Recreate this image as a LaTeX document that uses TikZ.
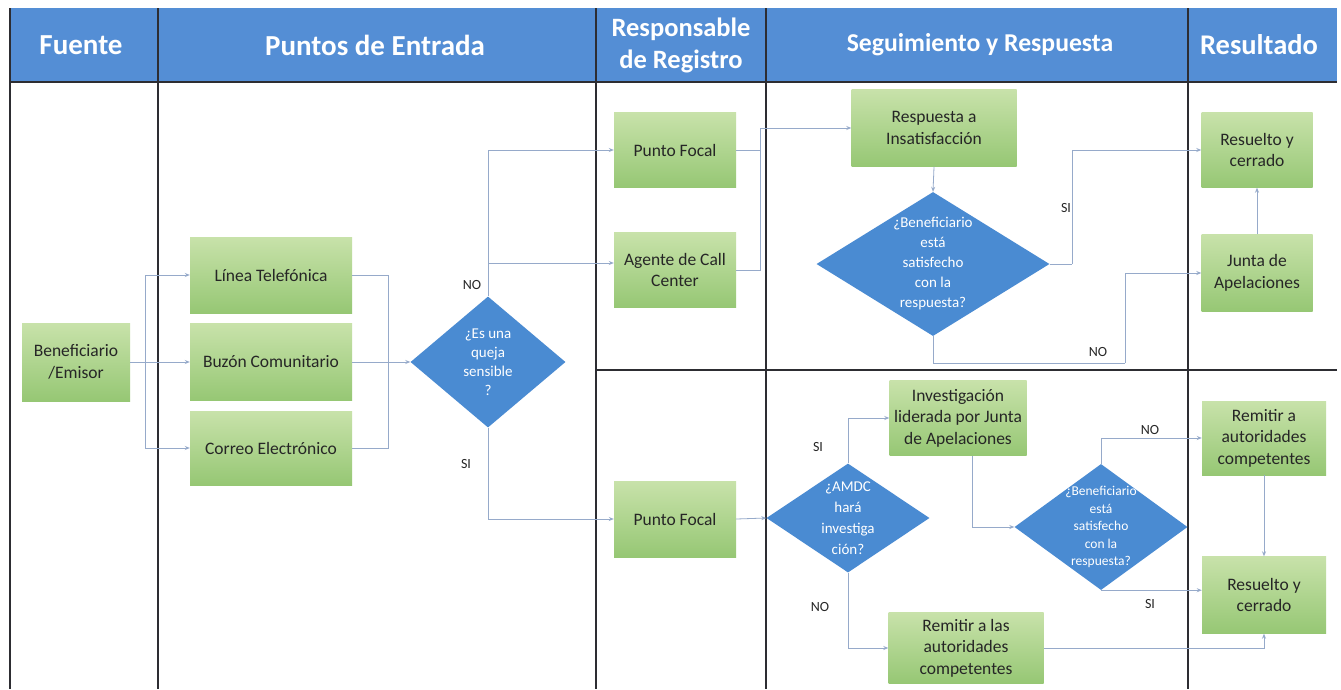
\documentclass[tikz,border=0pt]{standalone}
\usepackage{fontspec}
\setmainfont{Carlito}
\usetikzlibrary{shapes.geometric,arrows.meta}
\definecolor{hdr}{RGB}{84,142,213}
\definecolor{dia}{RGB}{74,139,210}
\definecolor{gtop}{RGB}{200,226,170}
\definecolor{gbot}{RGB}{150,199,116}
\definecolor{conn}{RGB}{150,170,202}
\definecolor{sepc}{RGB}{45,45,50}
\begin{document}
\begin{tikzpicture}[x=1pt,y=-1pt,
  gbox/.style={draw=none,top color=gtop,bottom color=gbot,align=center,inner sep=2pt,
    text=black!85,font=\fontsize{17.5}{21.5}\selectfont},
  dmd/.style={diamond,fill=dia,draw=none,inner sep=0pt},
  dtxt/.style={align=center,text=white,font=\fontsize{15}{19}\selectfont},
  hdrtxt/.style={align=center,text=white,font=\bfseries\fontsize{25}{31}\selectfont},
  lbl/.style={text=black!85,font=\fontsize{14}{16}\selectfont},
  cn/.style={draw=conn,line width=0.8pt},
  arr/.style={-{Stealth[length=5pt,width=4pt]}},
  sepl/.style={draw=sepc,line width=1.3pt}]
\useasboundingbox (0,0) rectangle (1341,689);
\fill[white] (0,0) rectangle (1341,689);
% header band
\fill[hdr] (10,8) rectangle (1337,82);
\draw[sepl] (10,82) -- (1337,82);
\draw[sepl] (10,8) -- (10,689);
\draw[sepl] (158,8) -- (158,689);
\draw[sepl] (596,8) -- (596,689);
\draw[sepl] (766,8) -- (766,689);
\draw[sepl] (1188,8) -- (1188,689);
\draw[sepl] (596,370) -- (1337,370);
\node[hdrtxt,font=\bfseries\fontsize{29}{33}\selectfont] (h1) at (81,45) {Fuente};
\node[hdrtxt,font=\bfseries\fontsize{29}{33}\selectfont] (h2) at (375,45) {Puntos de Entrada};
\node[hdrtxt,font=\bfseries\fontsize{26.5}{32}\selectfont] (h3) at (681,45) {Responsable\\de Registro};
\node[hdrtxt,font=\bfseries\fontsize{25.7}{31}\selectfont] (h4) at (980,45) {Seguimiento y Respuesta};
\node[hdrtxt,font=\bfseries\fontsize{28.5}{33}\selectfont] (h5) at (1259,45) {Resultado};
% boxes
\node[gbox,minimum width=108pt,minimum height=78pt] (ben) at (76,362) {Beneficiario\\/Emisor};
\node[gbox,minimum width=162pt,minimum height=76pt] (lin) at (271,275) {Línea Telefónica};
\node[gbox,minimum width=162pt,minimum height=77pt] (buz) at (271,362) {Buzón Comunitario};
\node[gbox,minimum width=162pt,minimum height=74pt] (cor) at (271,448) {Correo Electrónico};
\node[gbox,minimum width=122pt,minimum height=75pt] (pf1) at (675,150) {Punto Focal};
\node[gbox,minimum width=122pt,minimum height=75pt] (ag) at (675,270) {Agente de Call\\Center};
\node[gbox,minimum width=122pt,minimum height=76pt] (pf2) at (675,519) {Punto Focal};
\node[gbox,minimum width=165pt,minimum height=77pt] (resp) at (934,128) {Respuesta a\\Insatisfacción};
\node[gbox,minimum width=111pt,minimum height=75pt] (res1) at (1257,150) {Resuelto y\\cerrado};
\node[gbox,minimum width=111pt,minimum height=77pt] (jun) at (1257,273) {Junta de\\Apelaciones};
\node[gbox,minimum width=137pt,minimum height=75pt] (inv) at (958,418) {Investigación\\liderada por Junta\\de Apelaciones};
\node[gbox,minimum width=155pt,minimum height=71pt] (rem1) at (966,648) {Remitir a las\\autoridades\\competentes};
\node[gbox,minimum width=124pt,minimum height=74pt] (rem2) at (1264,438) {Remitir a\\autoridades\\competentes};
\node[gbox,minimum width=124pt,minimum height=77pt] (res2) at (1264,595) {Resuelto y\\cerrado};
% diamonds
\node[dmd,minimum width=155pt,minimum height=131pt] (d1) at (488,362) {};
\node[dtxt] (d1t) at (d1.center) {¿Es una\\queja\\sensible\\?};
\node[dmd,minimum width=233pt,minimum height=144pt] (d2) at (933,264) {};
\node[dtxt,font=\fontsize{15}{20}\selectfont] (d2t) at (d2.center) {¿Beneficiario\\está\\satisfecho\\con la\\respuesta?};
\node[dmd,minimum width=163pt,minimum height=109pt] (d3) at (848,518) {};
\node[dtxt,font=\fontsize{15}{21}\selectfont] (d3t) at (d3.center) {¿AMDC\\hará\\investiga\\ción?};
\node[dmd,minimum width=173pt,minimum height=126pt] (d4) at (1101,527) {};
\node[dtxt,font=\fontsize{13.5}{17.5}\selectfont] (d4t) at (d4.center) {¿Beneficiario\\está\\satisfecho\\con la\\respuesta?};
% junction coordinates
\coordinate (j1) at (145,362);
\coordinate (j2) at (388,362);
\coordinate (j4) at (488,263);
\coordinate (j5) at (760,128);
\coordinate (j6) at (1072,264);
\coordinate (j7) at (1125,363);
% connectors
\draw[cn] (ben.east) -- (j1);
\draw[cn,arr] (j1) |- (lin.west);
\draw[cn,arr] (j1) -- (buz.west);
\draw[cn,arr] (j1) |- (cor.west);
\draw[cn] (lin.east) -| (j2);
\draw[cn] (cor.east) -| (j2);
\draw[cn,arr] (buz.east) -- (d1.west);
\draw[cn,arr] (d1.north) |- (pf1.west);
\draw[cn,arr] (j4) -- (ag.west |- j4);
\draw[cn,arr] (d1.south) |- (pf2.west);
\draw[cn] (pf1.east) -| (j5);
\draw[cn] (ag.east) -| (j5);
\draw[cn,arr] (j5) -- (resp.west);
\draw[cn,arr] (resp.south) -- (d2.north);
\draw[cn] (d2.east) -- (j6);
\draw[cn,arr] (j6) |- (res1.west);
\draw[cn] (d2.south) |- (j7);
\draw[cn,arr] (j7) |- (jun.west);
\draw[cn,arr] (jun.north) -- (res1.south);
\draw[cn,arr] (pf2.east) -- (d3.west);
\draw[cn,arr] (d3.north) |- (inv.west);
\draw[cn,arr] (d3.south) |- (rem1.west);
\draw[cn,arr] ([xshift=14pt]inv.south) |- (d4.west);
\draw[cn,arr] (d4.north) |- (rem2.west);
\draw[cn,arr] (d4.south) -- (res2.west |- d4.south);
\draw[cn,arr] (rem2.south) -- (res2.north);
\draw[cn,arr] (rem1.east) -| (res2.south);
% labels
\node[lbl] (l1) at (472,285) {NO};
\node[lbl] (l2) at (466,464) {SI};
\node[lbl] (l3) at (1066,208) {SI};
\node[lbl] (l4) at (1098,352) {NO};
\node[lbl] (l5) at (818,447) {SI};
\node[lbl] (l6) at (820,607) {NO};
\node[lbl] (l7) at (1150,430) {NO};
\node[lbl] (l8) at (1150,604) {SI};
\end{tikzpicture}
\end{document}
